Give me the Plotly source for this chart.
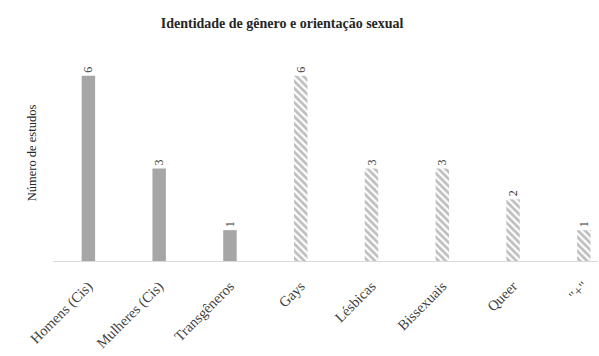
import plotly.graph_objects as go

categories = ["Homens (Cis)", "Mulheres (Cis)", "Transgêneros", "Gays", "Lésbicas", "Bissexuais", "Queer", "\"+\""]
values = [6, 3, 1, 6, 3, 3, 2, 1]
hatched = [False, False, False, True, True, True, True, True]

fig = go.Figure()
fig.add_trace(go.Bar(
    x=categories,
    y=values,
    width=0.19,
    marker=dict(
        color="#a6a6a6",
        line=dict(width=0),
        pattern=dict(
            shape=["\\" if h else "" for h in hatched],
            fgcolor="#7f7f7f",
            bgcolor="white",
            size=5,
            solidity=0.55,
        ),
    ),
    text=[str(v) for v in values],
    textposition="outside",
    textangle=-90,
    textfont=dict(family="Liberation Serif", size=12, color="#404040"),
    cliponaxis=False,
))

fig.update_layout(
    width=599, height=356,
    margin=dict(l=53, r=1, t=45, b=95),
    paper_bgcolor="white", plot_bgcolor="white",
    showlegend=False,
    title=dict(
        text="<b>Identidade de gênero e orientação sexual</b>",
        x=0.471, xanchor="center", y=0.935, yanchor="middle",
        font=dict(family="Liberation Serif", size=14, color="#262626"),
    ),
    xaxis=dict(
        range=[-0.5, 7.2],
        tickangle=-45,
        automargin=False,
        showline=True, linecolor="#d9d9d9", linewidth=1,
        ticks="", showgrid=False,
        ticklabelstandoff=10,
        tickfont=dict(family="Liberation Serif", size=14.5, color="#404040"),
    ),
    yaxis=dict(
        range=[0, 7],
        automargin=False,
        showticklabels=False, showgrid=False, zeroline=False, ticks="",
        title=dict(text="Número de estudos", standoff=12,
                   font=dict(family="Liberation Serif", size=12.5, color="#262626")),
    ),
)

fig.write_html("out.html")
